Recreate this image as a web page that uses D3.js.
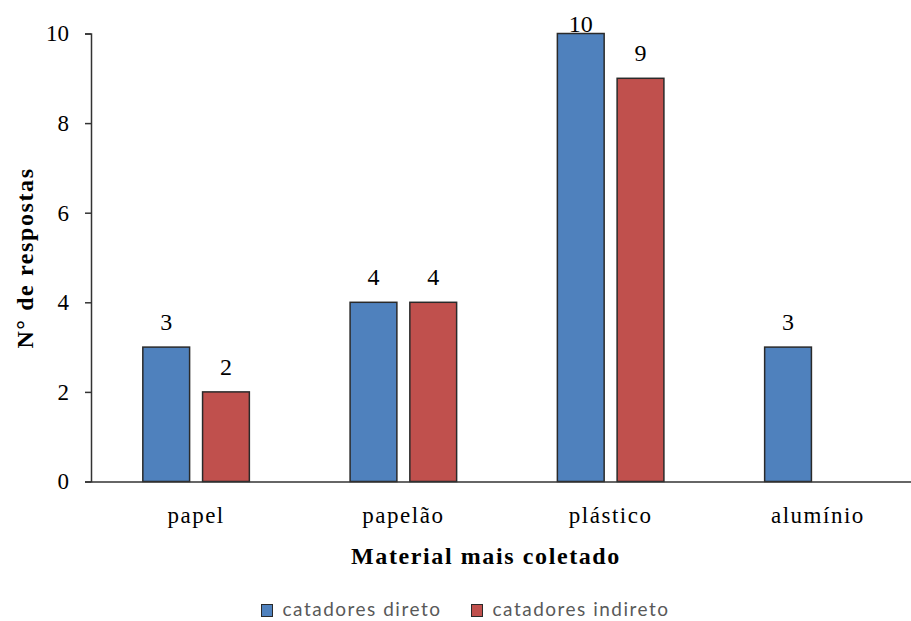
<!DOCTYPE html>
<html>
<head>
<meta charset="utf-8">
<script src="https://cdn.jsdelivr.net/npm/d3@7"></script>
<style>
  html, body { margin: 0; padding: 0; background: #fff; }
  svg { display: block; }
</style>
</head>
<body>
<svg id="chart" width="911" height="621"></svg>
<script>
// Material most collected, by type of waste picker
const categories = ["papel", "papelão", "plástico", "alumínio"];
const seriesNames = ["catadores direto", "catadores indireto"];
const diretoValues = [3, 4, 10, 3];
const indiretoValues = [2, 4, 9, null];
const yTicks = [0, 2, 4, 6, 8, 10];
const colors = ["#4f81bd", "#c0504d"];

const SERIF = "'Liberation Serif', 'Times New Roman', serif";
const svg = d3.select("#chart");
const plot = { left: 91, right: 923, top: 33.5, bottom: 481.5 };

const x0 = d3.scaleBand()
  .domain(categories)
  .range([plot.left, plot.right])
  .paddingInner(0.486)
  .paddingOuter(0.25);

const x1 = d3.scaleBand()
  .domain(seriesNames)
  .range([0, x0.bandwidth()])
  .paddingInner(0.217)
  .paddingOuter(0);

const y = d3.scaleLinear().domain([0, 10]).range([plot.bottom, plot.top]);

const rows = categories.map((c, i) => ({
  cat: c,
  vals: [diretoValues[i], indiretoValues[i]]
}));

// bars
const groups = svg.append("g").selectAll("g")
  .data(rows).join("g")
  .attr("transform", d => `translate(${x0(d.cat)},0)`);

groups.selectAll("rect")
  .data(d => d.vals.map((v, k) => ({ v, k })).filter(e => e.v != null))
  .join("rect")
  .attr("x", e => x1(seriesNames[e.k]))
  .attr("y", e => y(e.v))
  .attr("width", x1.bandwidth())
  .attr("height", e => y(0) - y(e.v))
  .attr("fill", e => colors[e.k])
  .attr("stroke", "#2a2a2a")
  .attr("stroke-width", 1.5);

// value labels (kept inside the plot's top edge)
groups.selectAll("text")
  .data(d => d.vals.map((v, k) => ({ v, k })).filter(e => e.v != null))
  .join("text")
  .attr("x", e => x1(seriesNames[e.k]) + x1.bandwidth() / 2)
  .attr("y", e => Math.max(y(e.v) - 17, plot.top - 1.5))
  .attr("text-anchor", "middle")
  .attr("font-family", SERIF)
  .attr("font-size", 24)
  .attr("fill", "#000")
  .text(e => e.v);

// y axis
const yAxis = d3.axisLeft(y).tickValues(yTicks).tickSize(6).tickPadding(16);
const gy = svg.append("g")
  .attr("transform", `translate(${plot.left},0)`)
  .call(yAxis);
gy.attr("font-family", null).attr("font-size", null);
gy.select(".domain").attr("stroke", "#333").attr("stroke-width", 1.5);
gy.selectAll(".tick line").attr("stroke", "#333").attr("stroke-width", 1.5);
gy.selectAll(".tick text")
  .style("font-family", SERIF)
  .style("font-size", "23px")
  .attr("fill", "#000");

// x axis
const xAxis = d3.axisBottom(x0).tickSize(0).tickPadding(25);
const gx = svg.append("g")
  .attr("transform", `translate(0,${plot.bottom})`)
  .call(xAxis);
gx.attr("font-family", null).attr("font-size", null);
gx.select(".domain").attr("stroke", "#333").attr("stroke-width", 1.5);
gx.selectAll(".tick text")
  .style("font-family", SERIF)
  .style("font-size", "23px")
  .style("letter-spacing", "1.5px")
  .attr("fill", "#000");

// axis titles
svg.append("text")
  .attr("transform", "translate(32.5,258) rotate(-90)")
  .attr("text-anchor", "middle")
  .style("font-family", SERIF)
  .style("font-weight", "bold")
  .style("font-size", "24px")
  .style("letter-spacing", "1.6px")
  .text("N° de respostas");

svg.append("text")
  .attr("x", 486)
  .attr("y", 564)
  .attr("text-anchor", "middle")
  .style("font-family", SERIF)
  .style("font-weight", "bold")
  .style("font-size", "24px")
  .style("letter-spacing", "1.6px")
  .text("Material mais coletado");

// legend
const legendItems = [
  { name: seriesNames[0], color: colors[0], x: 261.5 },
  { name: seriesNames[1], color: colors[1], x: 471.5 }
];
const lg = svg.append("g").selectAll("g")
  .data(legendItems).join("g")
  .attr("transform", d => `translate(${d.x},604.5)`);
lg.append("rect")
  .attr("width", 11).attr("height", 12)
  .attr("fill", d => d.color)
  .attr("stroke", "#2a2a2a").attr("stroke-width", 1);
lg.append("text")
  .attr("x", 21).attr("y", 11.5)
  .style("font-family", "Lato, 'Open Sans', sans-serif")
  .style("font-size", "19px")
  .style("letter-spacing", "1.5px")
  .attr("fill", "#595959")
  .text(d => d.name);
</script>
</body>
</html>
